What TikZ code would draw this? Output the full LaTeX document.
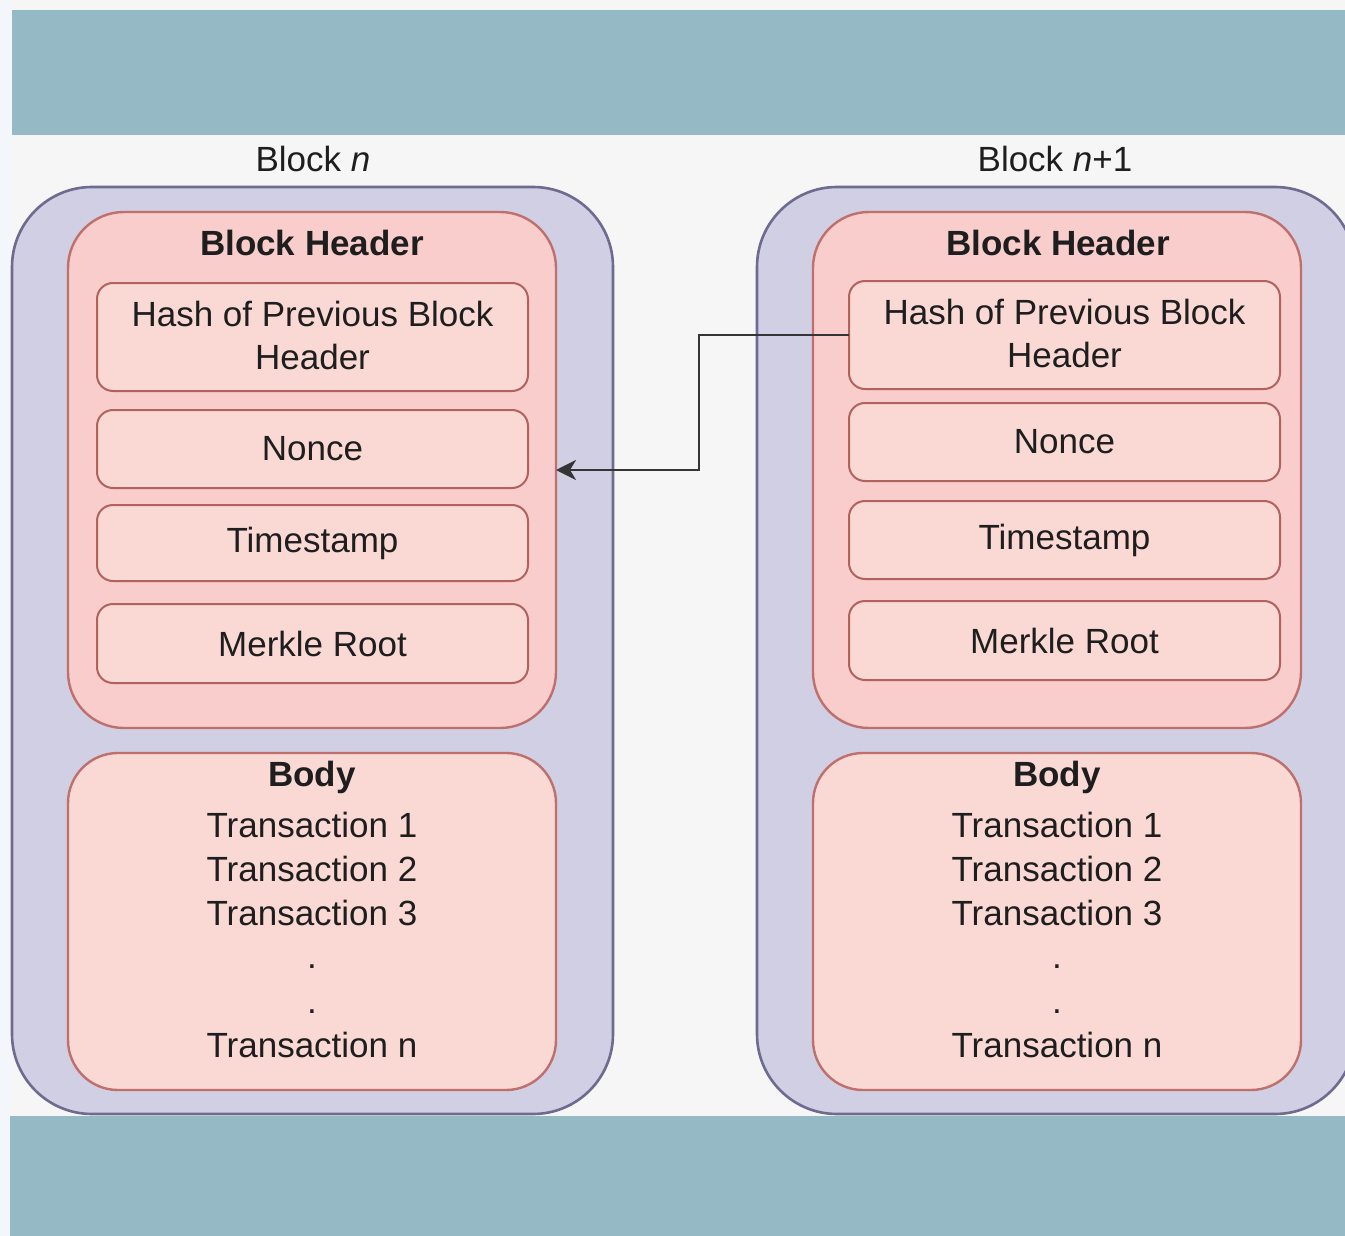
\documentclass[tikz,border=0pt]{standalone}
\usepackage{fontspec}
\setmainfont{Liberation Sans}
\usetikzlibrary{fit,arrows.meta}
\definecolor{bgc}{HTML}{F6F6F6}
\definecolor{stripc}{HTML}{F3F7FB}
\definecolor{bandc}{HTML}{96B9C6}
\definecolor{outerfill}{HTML}{D0CFE4}
\definecolor{outerline}{HTML}{6E6A90}
\definecolor{hdrfill}{HTML}{F8CDCC}
\definecolor{hdrline}{HTML}{C0706C}
\definecolor{itemfill}{HTML}{FAD9D5}
\definecolor{itemline}{HTML}{B2625E}
\definecolor{txt}{HTML}{1E1E1E}
\begin{document}
\begin{tikzpicture}[x=0.5pt,y=-0.5pt,
 fitbox/.style={inner sep=0pt, outer sep=0pt},
 outerbox/.style={draw=outerline, fill=outerfill, line width=1.3pt, rounded corners=40pt},
 hdrbox/.style={draw=hdrline, fill=hdrfill, line width=1.2pt, rounded corners=28pt},
 bodybox/.style={draw=hdrline, fill=itemfill, line width=1.2pt, rounded corners=25pt},
 itembox/.style={draw=itemline, fill=itemfill, line width=1pt, rounded corners=8pt},
 itemtxt/.style={font=\fontsize{17.5}{21.5}\selectfont, text=txt, align=center, inner sep=0pt, anchor=center},
 lbl/.style={font=\fontsize{17.5}{21.5}\selectfont, text=txt, anchor=base, inner sep=0pt},
 ttl/.style={lbl, font=\fontsize{17.5}{21.5}\selectfont\bfseries},
 link/.style={draw=txt!90, line width=1.4pt, -{Stealth[length=10pt,width=10pt,inset=3pt]}}
]
\clip (0,0) rectangle (1345,1236);
\fill[bgc] (0,0) rectangle (1345,1236);
\fill[stripc] (0,0) rectangle (12,1236);
\fill[bandc] (12,10) rectangle (1345,135);

% outer blocks
\node[fitbox, outerbox, fit={(12,187)(613,1114)}] (blkL) {};
\node[fitbox, outerbox, fit={(757,187)(1355,1114)}] (blkR) {};
\fill[bandc] (10,1116) rectangle (1345,1236);

% block titles
\node[lbl] (tL) at (313,172) {Block \textit{n}};
\node[lbl] (tR) at (1055,172) {Block \textit{n}+1};

% ---------- left block ----------
\node[fitbox, hdrbox, fit={(68,212)(556,728)}] (hdrL) {};
\node[ttl] (hdrLt) at (312,256) {Block Header};
\node[fitbox, itembox, fit={(97,283)(528,391)}] (hL1) {};
\node[fitbox, itembox, fit={(97,410)(528,488)}] (hL2) {};
\node[fitbox, itembox, fit={(97,505)(528,581)}] (hL3) {};
\node[fitbox, itembox, fit={(97,604)(528,683)}] (hL4) {};
\node[itemtxt] (hL1t) at ([yshift=1pt]hL1.center) {Hash of Previous Block\\Header};
\node[itemtxt] (hL2t) at (hL2.center) {Nonce};
\node[itemtxt] (hL3t) at (hL3.center) {Timestamp};
\node[itemtxt] (hL4t) at (hL4.center) {Merkle Root};

\node[fitbox, bodybox, fit={(68,753)(556,1090)}] (bodyL) {};
\node[ttl] (bodyLt) at (312,786) {Body};
\node[lbl] (bL1) at (312,837) {Transaction 1};
\node[lbl] (bL2) at (312,881) {Transaction 2};
\node[lbl] (bL3) at (312,925) {Transaction 3};
\node[lbl] (bL4) at (312,968) {.};
\node[lbl] (bL5) at (312,1013) {.};
\node[lbl] (bL6) at (312,1057) {Transaction n};

% ---------- right block ----------
\node[fitbox, hdrbox, fit={(813,212)(1301,728)}] (hdrR) {};
\node[ttl] (hdrRt) at (1058,256) {Block Header};
\node[fitbox, itembox, fit={(849,281)(1280,389)}] (hR1) {};
\node[fitbox, itembox, fit={(849,403)(1280,481)}] (hR2) {};
\node[fitbox, itembox, fit={(849,501)(1280,579)}] (hR3) {};
\node[fitbox, itembox, fit={(849,601)(1280,680)}] (hR4) {};
\node[itemtxt] (hR1t) at ([yshift=1pt]hR1.center) {Hash of Previous Block\\Header};
\node[itemtxt] (hR2t) at (hR2.center) {Nonce};
\node[itemtxt] (hR3t) at (hR3.center) {Timestamp};
\node[itemtxt] (hR4t) at (hR4.center) {Merkle Root};

\node[fitbox, bodybox, fit={(813,753)(1301,1090)}] (bodyR) {};
\node[ttl] (bodyRt) at (1057,786) {Body};
\node[lbl] (bR1) at (1057,837) {Transaction 1};
\node[lbl] (bR2) at (1057,881) {Transaction 2};
\node[lbl] (bR3) at (1057,925) {Transaction 3};
\node[lbl] (bR4) at (1057,968) {.};
\node[lbl] (bR5) at (1057,1013) {.};
\node[lbl] (bR6) at (1057,1057) {Transaction n};

% connector
\coordinate (bend) at (699,335);
\draw[link] (hR1.west) -- (bend |- hR1.west) |- (hdrL.east);
\end{tikzpicture}
\end{document}
